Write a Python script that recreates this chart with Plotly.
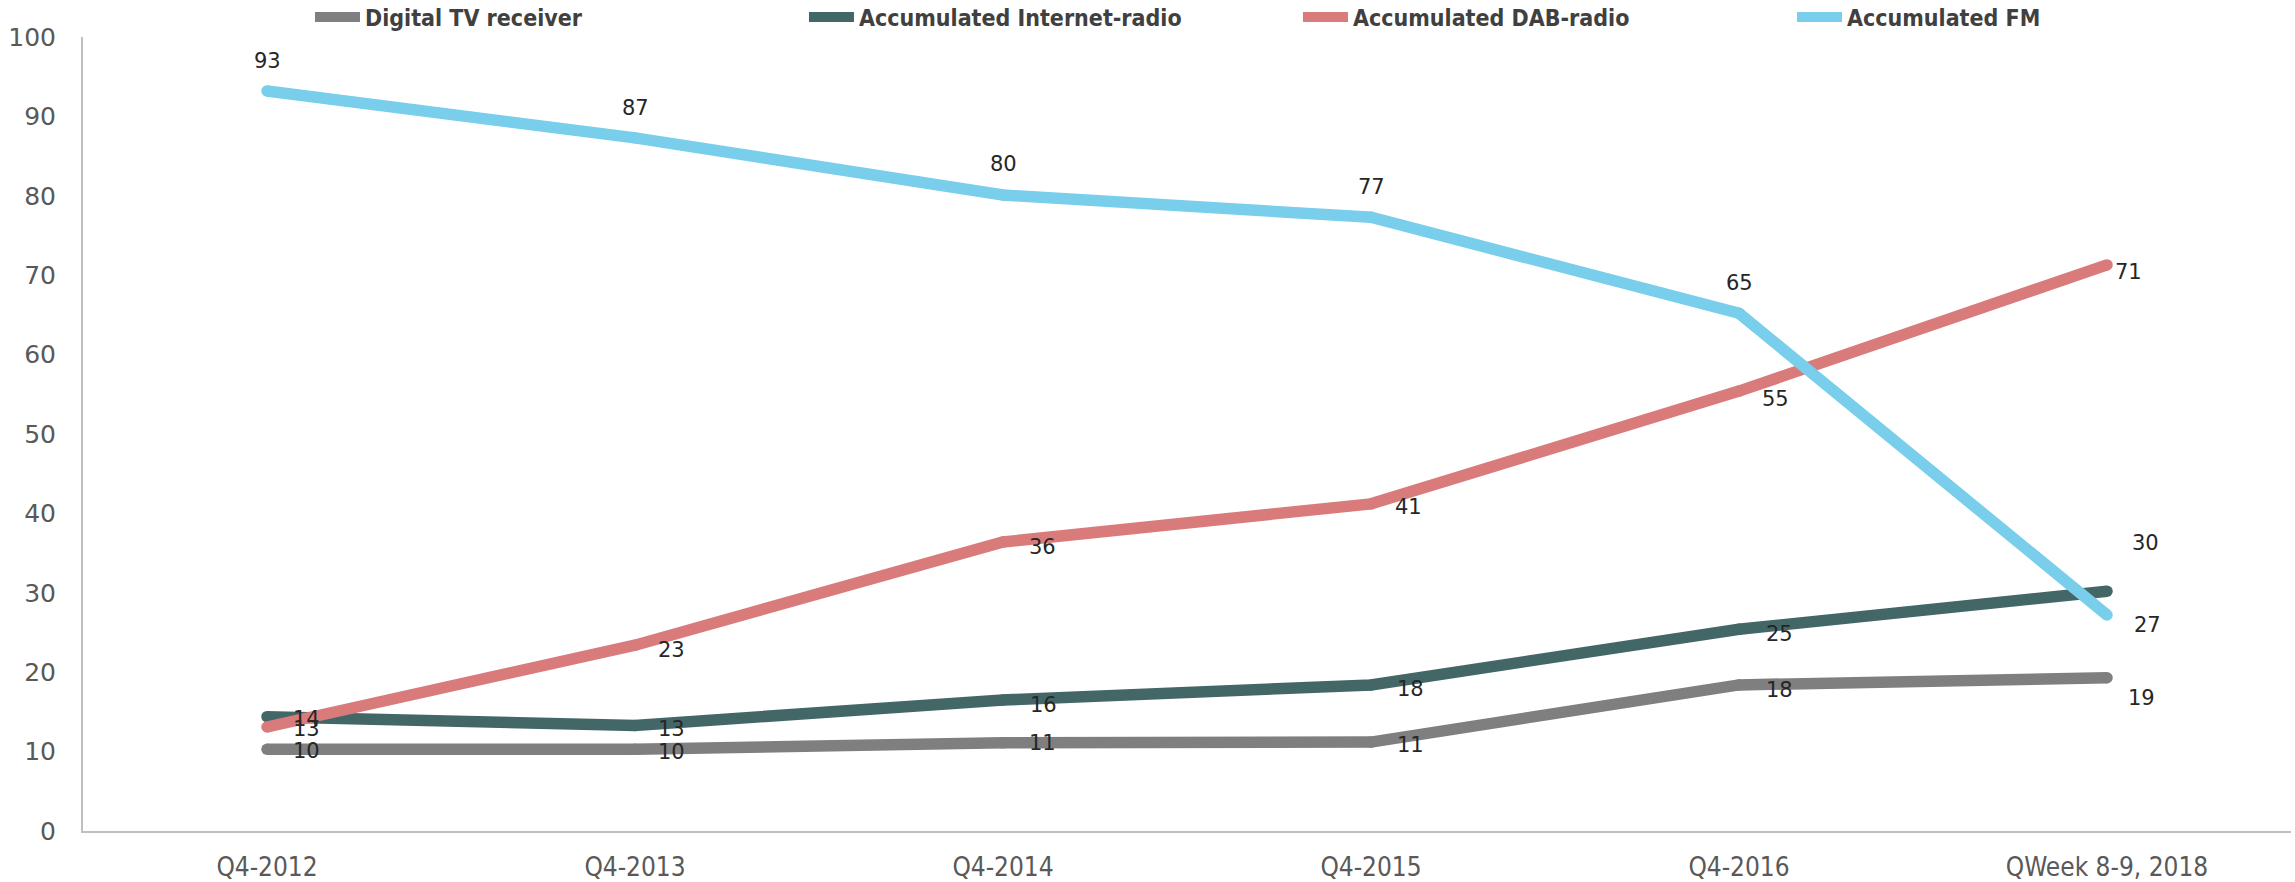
import plotly.graph_objects as go

categories = ["Q4-2012", "Q4-2013", "Q4-2014", "Q4-2015", "Q4-2016", "QWeek 8-9, 2018"]

tv_values = [10.3, 10.3, 11.1, 11.2, 18.4, 19.3]
internet_values = [14.4, 13.3, 16.5, 18.4, 25.4, 30.2]
dab_values = [13.1, 23.4, 36.4, 41.2, 55.4, 71.3]
fm_values = [93.2, 87.3, 80.1, 77.3, 65.2, 27.2]

series_names = ["Digital TV receiver", "Accumulated Internet-radio", "Accumulated DAB-radio", "Accumulated FM"]
series_values = [tv_values, internet_values, dab_values, fm_values]
series_colors = ["#7F7F7F", "#436766", "#D97B7B", "#78CEEB"]

# label offsets in pixels (xshift, yshift) per series / point
label_offsets = [
    [(39, -2), (36, -3), (39, 0), (39, -3), (40, -5), (34, -20)],
    [(39, -2), (36, -4), (40, -5), (39, -4), (40, -5), (38, 48)],
    [(39, -2), (36, -5), (39, -5), (37, -3), (36, -8), (21, -7)],
    [(0, 30), (0, 30), (0, 31), (0, 30), (0, 30), (40, -10)],
]

NARROW = "Liberation Sans Narrow, DejaVu Sans Condensed, Arial Narrow, sans-serif"
LW = 11.5

fig = go.Figure()
for name, vals, col in zip(series_names, series_values, series_colors):
    fig.add_trace(go.Scatter(
        x=categories, y=vals, name=name, mode="lines",
        line=dict(color=col, width=LW),
        hoverinfo="skip", legendgroup=name,
    ))
    # round caps / joins
    fig.add_trace(go.Scatter(
        x=categories, y=vals, name=name, mode="markers",
        marker=dict(color=col, size=LW, line=dict(width=0)),
        hoverinfo="skip", showlegend=False, legendgroup=name,
    ))

annotations = []
for vals, offs in zip(series_values, label_offsets):
    for c, v, (dx, dy) in zip(categories, vals, offs):
        annotations.append(dict(
            x=c, y=v, xref="x", yref="y", text=str(int(round(v))),
            showarrow=False, xshift=dx, yshift=dy,
            font=dict(family="DejaVu Sans, Verdana, sans-serif", size=21, color="#262626"),
        ))

fig.update_layout(
    width=2295, height=882,
    margin=dict(l=83, r=4, t=37, b=51, autoexpand=False),
    paper_bgcolor="white", plot_bgcolor="white",
    showlegend=True,
    legend=dict(
        orientation="h", x=0.1028, xanchor="left", y=1.025, yanchor="middle",
        entrywidth=434, entrywidthmode="pixels",
        font=dict(family=NARROW, size=23, color="#404040", weight="bold"),
        itemwidth=45, bgcolor="rgba(0,0,0,0)",
    ),
    annotations=annotations,
    xaxis=dict(
        type="category", range=[-0.5, 5.5],
        showgrid=False, zeroline=False,
        showline=True, linecolor="#BFBFBF", linewidth=2,
        ticks="", tickfont=dict(family=NARROW, size=26, color="#595959"),
        ticklabelstandoff=12,
    ),
    yaxis=dict(
        range=[0, 100], dtick=10, tick0=0,
        showgrid=False, zeroline=False,
        showline=True, linecolor="#BFBFBF", linewidth=2,
        ticks="", tickfont=dict(family="DejaVu Sans, Verdana, sans-serif", size=25, color="#595959"),
        ticklabelstandoff=20,
    ),
)

fig.write_html("out.html")
